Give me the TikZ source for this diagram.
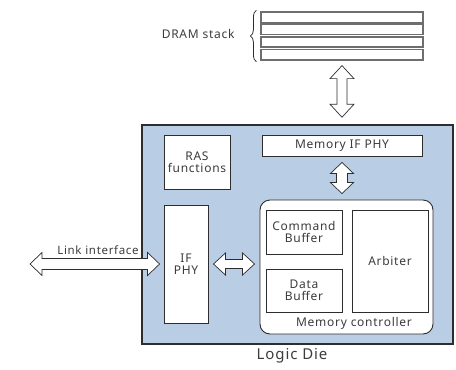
\documentclass[tikz,border=0pt]{standalone}
\usepackage{fontspec}
\setmainfont{Noto Sans}[LetterSpace=6]
\usetikzlibrary{decorations.pathreplacing,calc}
\definecolor{dieblue}{RGB}{185,205,228}
\definecolor{txt}{RGB}{60,60,60}
\definecolor{edge}{RGB}{45,45,45}
\definecolor{layer}{RGB}{110,110,110}
\tikzset{
  x=1pt,y=-1pt,
  every node/.style={font=\fontsize{12}{12.5}\selectfont, text=txt, align=center},
  blk/.style={draw=edge, line width=0.9pt, fill=white, inner sep=0},
  lay/.style={draw=layer, line width=1.2pt, fill=white, inner sep=0},
  barr/.style={draw=edge, line width=0.7pt, fill=white, line join=miter},
}
% horizontal block arrow: #1 left end, #2 right end, #3 half shaft, #4 half head, #5 head length
\newcommand{\myharrow}[5]{%
  \draw[barr] let \p1=#1, \p2=#2 in
   (\x1,\y1) -- (\x1+#5pt,\y1+#4pt) -- (\x1+#5pt,\y1+#3pt) -- (\x2-#5pt,\y1+#3pt)
   -- (\x2-#5pt,\y1+#4pt) -- (\x2,\y1) -- (\x2-#5pt,\y1-#4pt) -- (\x2-#5pt,\y1-#3pt)
   -- (\x1+#5pt,\y1-#3pt) -- (\x1+#5pt,\y1-#4pt) -- cycle;}
% vertical block arrow: #1 top end, #2 bottom end
\newcommand{\myvarrow}[5]{%
  \draw[barr] let \p1=#1, \p2=#2 in
   (\x1,\y1) -- (\x1+#4pt,\y1-#5pt) -- (\x1+#3pt,\y1-#5pt) -- (\x1+#3pt,\y2+#5pt)
   -- (\x1+#4pt,\y2+#5pt) -- (\x1,\y2) -- (\x1-#4pt,\y2+#5pt) -- (\x1-#3pt,\y2+#5pt)
   -- (\x1-#3pt,\y1-#5pt) -- (\x1-#4pt,\y1-#5pt) -- cycle;}
\begin{document}
\begin{tikzpicture}
\useasboundingbox (0,0) rectangle (456,370);
% DRAM stack
\node[lay, minimum width=162pt, minimum height=11pt] (l1) at (342,17.5) {};
\node[lay, minimum width=162pt, minimum height=10pt] (l2) at (342,29.5) {};
\node[lay, minimum width=162pt, minimum height=10pt] (l3) at (342,42) {};
\node[lay, minimum width=162pt, minimum height=10.5pt] (l4) at (342,54.75) {};
\draw[edge, line width=0.8pt, decorate, decoration={brace, amplitude=6pt}]
  ($(l4.south west)+(-4,1)$) -- ($(l1.north west)+(-4,-1)$);
\node[anchor=east] (dramlbl) at (238,34) {DRAM stack};
% Logic die
\node[draw=edge, line width=1.5pt, fill=dieblue, minimum width=311pt, minimum height=219pt, inner sep=0] (die) at (297.5,234.5) {};
\node[font=\fontsize{15}{16}\selectfont] (logic) at (292,356) {Logic Die};
% inner blocks
\node[blk, minimum width=66pt, minimum height=54pt] (ras) at (197,162) {RAS\\functions};
\node[blk, minimum width=44pt, minimum height=118pt] (ifphy) at (186,264) {IF\\PHY};
\node[blk, minimum width=160pt, minimum height=21pt] (mifphy) at (342,145.5) {Memory IF PHY};
\node[blk, rounded corners=10pt, minimum width=173pt, minimum height=134pt] (mc) at (346.5,267) {};
\node (mclbl) at (354,323) {Memory controller};
\node[blk, minimum width=76pt, minimum height=44pt] (cmd) at (304,232) {Command\\Buffer};
\node[blk, minimum width=76pt, minimum height=43pt] (data) at (304,290.5) {Data\\Buffer};
\node[blk, minimum width=76pt, minimum height=102pt] (arb) at (390,261) {Arbiter};
% arrows
\coordinate (a1t) at ($(l4.south)+(0,5)$);
\coordinate (a1b) at ($(l4.south |- die.north)+(0,-7)$);
\myvarrow{(a1t)}{(a1b)}{5}{12}{13}
\coordinate (a2t) at ($(mifphy.south)+(0,6)$);
\coordinate (a2b) at ($(mifphy.south |- mc.north)+(0,-6)$);
\myvarrow{(a2t)}{(a2b)}{5.5}{11.5}{11}
\coordinate (linkend) at (30,264);
\coordinate (a3r) at ($(ifphy.west)+(-4,0)$);
\myharrow{(linkend)}{(a3r)}{5.5}{11.5}{12}
\coordinate (a4l) at ($(ifphy.east)+(5,0)$);
\coordinate (a4r) at ($(ifphy.east -| mc.west)+(-5,0)$);
\myharrow{(a4l)}{(a4r)}{4.5}{11}{12}
\node[font=\fontsize{11.5}{12}\selectfont] (link) at (98,250) {Link interface};
\end{tikzpicture}
\end{document}
